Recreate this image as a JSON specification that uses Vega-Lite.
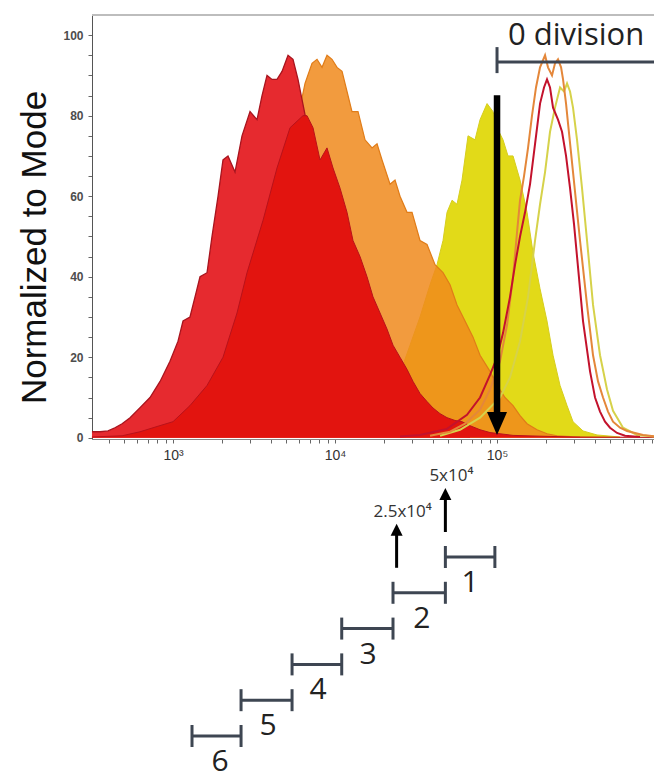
{
  "$schema": "https://vega.github.io/schema/vega-lite/v6.json",
  "width": 562,
  "height": 424,
  "autosize": "none",
  "padding": {"left": 92, "top": 15, "right": 0, "bottom": 332},
  "background": "white",
  "config": {"view": {"stroke": null}, "axis": {"grid": false}},
  "datasets": {
    "r1": [{"x":316,"y":1.5},{"x":354,"y":1.5},{"x":397,"y":1.7},{"x":438,"y":2.5},{"x":485,"y":3.5},{"x":543,"y":5},{"x":626,"y":7.5},{"x":721,"y":10},{"x":832,"y":14},{"x":958,"y":19},{"x":1074,"y":24},{"x":1153,"y":29},{"x":1273,"y":30},{"x":1387,"y":36},{"x":1468,"y":40},{"x":1622,"y":41},{"x":1741,"y":50},{"x":1897,"y":60},{"x":2035,"y":69},{"x":2185,"y":70},{"x":2414,"y":66},{"x":2667,"y":75},{"x":2988,"y":81},{"x":3301,"y":79},{"x":3544,"y":85},{"x":3804,"y":90},{"x":4085,"y":89},{"x":4385,"y":89},{"x":4709,"y":91},{"x":5128,"y":95},{"x":5504,"y":94},{"x":5909,"y":89},{"x":6257,"y":84},{"x":6622,"y":79},{"x":7525,"y":62},{"x":9314,"y":42},{"x":11530,"y":25},{"x":14270,"y":12},{"x":18960,"y":5},{"x":25190,"y":2},{"x":38590,"y":0.8},{"x":68130,"y":0.3}],
    "r2": [{"x":316,"y":0.2},{"x":485,"y":0.5},{"x":626,"y":1.5},{"x":797,"y":2.8},{"x":1000,"y":4},{"x":1273,"y":8},{"x":1622,"y":13},{"x":2035,"y":20},{"x":2484,"y":31},{"x":2863,"y":41},{"x":3594,"y":54},{"x":4385,"y":67},{"x":5276,"y":77},{"x":6345,"y":80},{"x":6717,"y":80},{"x":7315,"y":77},{"x":8081,"y":69},{"x":8925,"y":72},{"x":9720,"y":67},{"x":10740,"y":62},{"x":11860,"y":56},{"x":12910,"y":49},{"x":14270,"y":45},{"x":15760,"y":40},{"x":17160,"y":35},{"x":18960,"y":31},{"x":20940,"y":27},{"x":22800,"y":23},{"x":25190,"y":20},{"x":27830,"y":17},{"x":30310,"y":14},{"x":33470,"y":11},{"x":36980,"y":9},{"x":40270,"y":7.4},{"x":44480,"y":6},{"x":49130,"y":5},{"x":55050,"y":4.3},{"x":60810,"y":4},{"x":68130,"y":3},{"x":78560,"y":2},{"x":90540,"y":1.3},{"x":104350,"y":1},{"x":125560,"y":0.6},{"x":184300,"y":0.4},{"x":294500,"y":0.2},{"x":931000,"y":0.1}],
    "orange": [{"x":721,"y":0.5},{"x":1105,"y":2},{"x":1468,"y":4},{"x":1950,"y":9},{"x":2592,"y":18},{"x":3444,"y":33},{"x":4262,"y":50},{"x":5276,"y":70},{"x":6081,"y":82},{"x":6528,"y":88},{"x":7211,"y":93},{"x":7744,"y":94},{"x":8315,"y":92},{"x":8925,"y":95},{"x":9583,"y":94},{"x":10290,"y":92},{"x":11050,"y":91},{"x":11860,"y":86},{"x":12730,"y":81},{"x":13870,"y":81},{"x":15320,"y":74},{"x":16920,"y":72},{"x":18170,"y":73},{"x":19510,"y":69},{"x":21860,"y":63},{"x":23460,"y":64},{"x":25190,"y":60},{"x":27830,"y":56},{"x":29880,"y":56},{"x":33470,"y":49},{"x":36980,"y":48},{"x":41430,"y":43},{"x":46420,"y":41},{"x":51280,"y":38},{"x":56640,"y":33},{"x":61680,"y":30},{"x":71120,"y":25},{"x":78560,"y":20.5},{"x":90540,"y":16.5},{"x":100000,"y":13},{"x":112040,"y":10},{"x":125560,"y":8},{"x":138700,"y":5.5},{"x":153200,"y":3.5},{"x":176600,"y":2},{"x":203500,"y":1},{"x":234600,"y":0.5},{"x":325300,"y":0.2}],
    "yellow": [{"x":10740,"y":0.2},{"x":14270,"y":1},{"x":17660,"y":3},{"x":20350,"y":6},{"x":22480,"y":10},{"x":25190,"y":16},{"x":29040,"y":23},{"x":33470,"y":30},{"x":38590,"y":38},{"x":42620,"y":43},{"x":46420,"y":49},{"x":49130,"y":56},{"x":52760,"y":59},{"x":56640,"y":58},{"x":60810,"y":64},{"x":66220,"y":75},{"x":73140,"y":74},{"x":78560,"y":79},{"x":86780,"y":83},{"x":94470,"y":81},{"x":100000,"y":77},{"x":108900,"y":74},{"x":116900,"y":70},{"x":125560,"y":70},{"x":138700,"y":64},{"x":153200,"y":56},{"x":166800,"y":46},{"x":184300,"y":37},{"x":203500,"y":29},{"x":221700,"y":20.5},{"x":244900,"y":13},{"x":270500,"y":8},{"x":294500,"y":4},{"x":339500,"y":1.7},{"x":414300,"y":0.7},{"x":574500,"y":0.2}],
    "rline": [{"x":25190,"y":0.3},{"x":33470,"y":0.7},{"x":49130,"y":2.2},{"x":65280,"y":5.7},{"x":78560,"y":10},{"x":90540,"y":15.6},{"x":100000,"y":20},{"x":108900,"y":26},{"x":120300,"y":35},{"x":129200,"y":43},{"x":138700,"y":50},{"x":148900,"y":56},{"x":159900,"y":63},{"x":171700,"y":73},{"x":184300,"y":83},{"x":195000,"y":87},{"x":203500,"y":89},{"x":212400,"y":87},{"x":221700,"y":82},{"x":237900,"y":79},{"x":251900,"y":76},{"x":266700,"y":70},{"x":282300,"y":62},{"x":298800,"y":53},{"x":311800,"y":45},{"x":339500,"y":29},{"x":375100,"y":16.5},{"x":402700,"y":10},{"x":432300,"y":6.5},{"x":464200,"y":4},{"x":498300,"y":2.5},{"x":550500,"y":1.2},{"x":616700,"y":0.5},{"x":763100,"y":0.2}],
    "oline": [{"x":38590,"y":0.5},{"x":51280,"y":1.5},{"x":63450,"y":3.5},{"x":78560,"y":7},{"x":90540,"y":12},{"x":104350,"y":19},{"x":115300,"y":28},{"x":125560,"y":40},{"x":132900,"y":51},{"x":138700,"y":59},{"x":146800,"y":65},{"x":155400,"y":72},{"x":164400,"y":80},{"x":174000,"y":87},{"x":184300,"y":92},{"x":197900,"y":95},{"x":206400,"y":92},{"x":218500,"y":90},{"x":228000,"y":93},{"x":237900,"y":94},{"x":248500,"y":92},{"x":255600,"y":89},{"x":266700,"y":83},{"x":274400,"y":78},{"x":294500,"y":66},{"x":325300,"y":49},{"x":359400,"y":33},{"x":391400,"y":20.5},{"x":420300,"y":14},{"x":451100,"y":10},{"x":484300,"y":6.5},{"x":520000,"y":4},{"x":574500,"y":2.5},{"x":634500,"y":1.7},{"x":796800,"y":0.7},{"x":931000,"y":0.4}],
    "yline": [{"x":44480,"y":0.5},{"x":59100,"y":2},{"x":78560,"y":5},{"x":104350,"y":10},{"x":120300,"y":15},{"x":138700,"y":24},{"x":155400,"y":35},{"x":171700,"y":49},{"x":184300,"y":58},{"x":197900,"y":66},{"x":212400,"y":76},{"x":228000,"y":82},{"x":244900,"y":87},{"x":259300,"y":86},{"x":270500,"y":88},{"x":282300,"y":86},{"x":294500,"y":82},{"x":311800,"y":74},{"x":334700,"y":62},{"x":359400,"y":49},{"x":391400,"y":33},{"x":432300,"y":20.5},{"x":477500,"y":12},{"x":520000,"y":6.7},{"x":599500,"y":2.5},{"x":731500,"y":0.7},{"x":931000,"y":0.3}],
    "frame": [{"left": 316.2, "right": 931000, "top": 105}],
    "zeroDiv": [{"start": 100000, "end": 931000, "level": 93.3, "label": "0 division"}],
    "bigArrow": [{"x": 100000, "top": 85.1, "tip": 0.7}],
    "divisions": [
      {"division": 1, "start": 48000, "end": 97000, "labelAt": 68100, "label": "1"},
      {"division": 2, "start": 22800, "end": 48000, "labelAt": 34400, "label": "2"},
      {"division": 3, "start": 11000, "end": 22800, "labelAt": 16000, "label": "3"},
      {"division": 4, "start": 5430, "end": 11000, "labelAt": 7860, "label": "4"},
      {"division": 5, "start": 2630, "end": 5430, "labelAt": 3860, "label": "5"},
      {"division": 6, "start": 1310, "end": 2630, "labelAt": 1950, "label": "6"}
    ],
    "markers": [
      {"value": 48000, "division": 1, "label": "5x10⁴"},
      {"value": 24000, "division": 2, "label": "2.5x10⁴"}
    ]
  },
  "layer": [
    {
      "data": {"name": "yellow"},
      "mark": {"type": "area", "color": "#E2DA18", "opacity": 1, "line": {"color": "#D6CE1E", "strokeWidth": 1}},
      "encoding": {
        "x": {"field": "x", "type": "quantitative", "scale": {"type": "log", "domain": [316.2, 931000], "nice": false},
          "axis": {"title": null, "values": [400,500,600,700,800,900,1000,2000,3000,4000,5000,6000,7000,8000,9000,10000,20000,30000,40000,50000,60000,70000,80000,90000,100000,200000,300000,400000,500000,600000,700000,800000,900000], "labelExpr": "datum.value == 1000 ? '10³' : datum.value == 10000 ? '10⁴' : datum.value == 100000 ? '10⁵' : ''", "tickSize": 4, "domainColor": "#888888", "tickColor": "#666666", "labelFont": "Liberation Sans", "labelFontSize": 14, "labelColor": "#333333", "labelPadding": 5, "labelOverlap": false, "labelFlush": false}},
        "y": {"field": "y", "type": "quantitative", "scale": {"domain": [-0.3, 105], "nice": false, "zero": false},
          "axis": {"values": [0,5,10,15,20,25,30,35,40,45,50,55,60,65,70,75,80,85,90,95,100],
            "labelExpr": "datum.value % 20 == 0 ? datum.label : ''",
            "tickSize": 4,
            "domain": true, "domainColor": "#555555", "tickColor": "#666666", "labelFont": "Liberation Sans", "labelFontSize": 12, "labelFontWeight": "bold", "labelColor": "#4d4d4d", "labelPadding": 5, "labelOverlap": false,
            "title": "Normalized to Mode", "titleFont": "Liberation Sans", "titleFontSize": 35, "titleFontWeight": "normal", "titleColor": "#111111",
            "titleX": -47, "titleY": 232, "titleAngle": -90, "titleBaseline": "alphabetic", "titleAlign": "center"}},
        "y2": {"datum": 0}
      }
    },
    {
      "data": {"name": "orange"},
      "mark": {"type": "area", "color": "#F08A1C", "opacity": 1, "fillOpacity": 0.85, "line": {"color": "#E07C18", "strokeWidth": 1.2}},
      "encoding": {
        "x": {"field": "x", "type": "quantitative", "scale": {"type": "log", "domain": [316.2, 931000], "nice": false},
          "axis": {"title": null, "values": [400,500,600,700,800,900,1000,2000,3000,4000,5000,6000,7000,8000,9000,10000,20000,30000,40000,50000,60000,70000,80000,90000,100000,200000,300000,400000,500000,600000,700000,800000,900000], "labelExpr": "datum.value == 1000 ? '10³' : datum.value == 10000 ? '10⁴' : datum.value == 100000 ? '10⁵' : ''", "tickSize": 4, "domainColor": "#888888", "tickColor": "#666666", "labelFont": "Liberation Sans", "labelFontSize": 14, "labelColor": "#333333", "labelPadding": 5, "labelOverlap": false, "labelFlush": false}},
        "y": {"field": "y", "type": "quantitative", "scale": {"domain": [-0.3, 105], "nice": false, "zero": false}, "axis": null},
        "y2": {"datum": 0}
      }
    },
    {
      "data": {"name": "r1"},
      "mark": {"type": "area", "color": "#E62A2F", "opacity": 1, "line": {"color": "#A8141E", "strokeWidth": 1.3}},
      "encoding": {
        "x": {"field": "x", "type": "quantitative", "scale": {"type": "log", "domain": [316.2, 931000], "nice": false},
          "axis": {"title": null, "values": [400,500,600,700,800,900,1000,2000,3000,4000,5000,6000,7000,8000,9000,10000,20000,30000,40000,50000,60000,70000,80000,90000,100000,200000,300000,400000,500000,600000,700000,800000,900000], "labelExpr": "datum.value == 1000 ? '10³' : datum.value == 10000 ? '10⁴' : datum.value == 100000 ? '10⁵' : ''", "tickSize": 4, "domainColor": "#888888", "tickColor": "#666666", "labelFont": "Liberation Sans", "labelFontSize": 14, "labelColor": "#333333", "labelPadding": 5, "labelOverlap": false, "labelFlush": false}},
        "y": {"field": "y", "type": "quantitative", "scale": {"domain": [-0.3, 105], "nice": false, "zero": false}, "axis": null},
        "y2": {"datum": 0}
      }
    },
    {
      "data": {"name": "r2"},
      "mark": {"type": "area", "color": "#E2140F", "opacity": 1, "line": {"color": "#B8121A", "strokeWidth": 1}},
      "encoding": {
        "x": {"field": "x", "type": "quantitative", "scale": {"type": "log", "domain": [316.2, 931000], "nice": false},
          "axis": {"title": null, "values": [400,500,600,700,800,900,1000,2000,3000,4000,5000,6000,7000,8000,9000,10000,20000,30000,40000,50000,60000,70000,80000,90000,100000,200000,300000,400000,500000,600000,700000,800000,900000], "labelExpr": "datum.value == 1000 ? '10³' : datum.value == 10000 ? '10⁴' : datum.value == 100000 ? '10⁵' : ''", "tickSize": 4, "domainColor": "#888888", "tickColor": "#666666", "labelFont": "Liberation Sans", "labelFontSize": 14, "labelColor": "#333333", "labelPadding": 5, "labelOverlap": false, "labelFlush": false}},
        "y": {"field": "y", "type": "quantitative", "scale": {"domain": [-0.3, 105], "nice": false, "zero": false}, "axis": null},
        "y2": {"datum": 0}
      }
    },
    {
      "data": {"name": "yline"},
      "mark": {"type": "line", "color": "#D6D24A", "strokeWidth": 2},
      "encoding": {
        "x": {"field": "x", "type": "quantitative", "scale": {"type": "log", "domain": [316.2, 931000], "nice": false},
          "axis": {"title": null, "values": [400,500,600,700,800,900,1000,2000,3000,4000,5000,6000,7000,8000,9000,10000,20000,30000,40000,50000,60000,70000,80000,90000,100000,200000,300000,400000,500000,600000,700000,800000,900000], "labelExpr": "datum.value == 1000 ? '10³' : datum.value == 10000 ? '10⁴' : datum.value == 100000 ? '10⁵' : ''", "tickSize": 4, "domainColor": "#888888", "tickColor": "#666666", "labelFont": "Liberation Sans", "labelFontSize": 14, "labelColor": "#333333", "labelPadding": 5, "labelOverlap": false, "labelFlush": false}},
        "y": {"field": "y", "type": "quantitative", "scale": {"domain": [-0.3, 105], "nice": false, "zero": false}, "axis": null}
      }
    },
    {
      "data": {"name": "oline"},
      "mark": {"type": "line", "color": "#E4873A", "strokeWidth": 2},
      "encoding": {
        "x": {"field": "x", "type": "quantitative", "scale": {"type": "log", "domain": [316.2, 931000], "nice": false},
          "axis": {"title": null, "values": [400,500,600,700,800,900,1000,2000,3000,4000,5000,6000,7000,8000,9000,10000,20000,30000,40000,50000,60000,70000,80000,90000,100000,200000,300000,400000,500000,600000,700000,800000,900000], "labelExpr": "datum.value == 1000 ? '10³' : datum.value == 10000 ? '10⁴' : datum.value == 100000 ? '10⁵' : ''", "tickSize": 4, "domainColor": "#888888", "tickColor": "#666666", "labelFont": "Liberation Sans", "labelFontSize": 14, "labelColor": "#333333", "labelPadding": 5, "labelOverlap": false, "labelFlush": false}},
        "y": {"field": "y", "type": "quantitative", "scale": {"domain": [-0.3, 105], "nice": false, "zero": false}, "axis": null}
      }
    },
    {
      "data": {"name": "rline"},
      "mark": {"type": "line", "color": "#C3122C", "strokeWidth": 2},
      "encoding": {
        "x": {"field": "x", "type": "quantitative", "scale": {"type": "log", "domain": [316.2, 931000], "nice": false},
          "axis": {"title": null, "values": [400,500,600,700,800,900,1000,2000,3000,4000,5000,6000,7000,8000,9000,10000,20000,30000,40000,50000,60000,70000,80000,90000,100000,200000,300000,400000,500000,600000,700000,800000,900000], "labelExpr": "datum.value == 1000 ? '10³' : datum.value == 10000 ? '10⁴' : datum.value == 100000 ? '10⁵' : ''", "tickSize": 4, "domainColor": "#888888", "tickColor": "#666666", "labelFont": "Liberation Sans", "labelFontSize": 14, "labelColor": "#333333", "labelPadding": 5, "labelOverlap": false, "labelFlush": false}},
        "y": {"field": "y", "type": "quantitative", "scale": {"domain": [-0.3, 105], "nice": false, "zero": false}, "axis": null}
      }
    },
    {
      "data": {"name": "frame"},
      "mark": {"type": "rule", "color": "#BDBDBD", "strokeWidth": 2},
      "encoding": {
        "x": {"field": "left", "type": "quantitative", "scale": {"type": "log", "domain": [316.2, 931000], "nice": false},
          "axis": {"title": null, "values": [400,500,600,700,800,900,1000,2000,3000,4000,5000,6000,7000,8000,9000,10000,20000,30000,40000,50000,60000,70000,80000,90000,100000,200000,300000,400000,500000,600000,700000,800000,900000], "labelExpr": "datum.value == 1000 ? '10³' : datum.value == 10000 ? '10⁴' : datum.value == 100000 ? '10⁵' : ''", "tickSize": 4, "domainColor": "#888888", "tickColor": "#666666", "labelFont": "Liberation Sans", "labelFontSize": 14, "labelColor": "#333333", "labelPadding": 5, "labelOverlap": false, "labelFlush": false}},
        "x2": {"field": "right"},
        "y": {"field": "top", "type": "quantitative", "scale": {"domain": [-0.3, 105], "nice": false, "zero": false}, "axis": null}
      }
    },
    {
      "data": {"name": "zeroDiv"},
      "mark": {"type": "rule", "color": "#3E4652", "strokeWidth": 3},
      "encoding": {
        "x": {"field": "start", "type": "quantitative", "scale": {"type": "log", "domain": [316.2, 931000], "nice": false},
          "axis": {"title": null, "values": [400,500,600,700,800,900,1000,2000,3000,4000,5000,6000,7000,8000,9000,10000,20000,30000,40000,50000,60000,70000,80000,90000,100000,200000,300000,400000,500000,600000,700000,800000,900000], "labelExpr": "datum.value == 1000 ? '10³' : datum.value == 10000 ? '10⁴' : datum.value == 100000 ? '10⁵' : ''", "tickSize": 4, "domainColor": "#888888", "tickColor": "#666666", "labelFont": "Liberation Sans", "labelFontSize": 14, "labelColor": "#333333", "labelPadding": 5, "labelOverlap": false, "labelFlush": false}},
        "x2": {"field": "end"},
        "y": {"field": "level", "type": "quantitative", "scale": {"domain": [-0.3, 105], "nice": false, "zero": false}, "axis": null}
      }
    },
    {
      "data": {"name": "zeroDiv"},
      "mark": {"type": "rule", "color": "#3E4652", "strokeWidth": 3, "yOffset": -15, "y2Offset": 11},
      "encoding": {
        "x": {"field": "start", "type": "quantitative", "scale": {"type": "log", "domain": [316.2, 931000], "nice": false},
          "axis": {"title": null, "values": [400,500,600,700,800,900,1000,2000,3000,4000,5000,6000,7000,8000,9000,10000,20000,30000,40000,50000,60000,70000,80000,90000,100000,200000,300000,400000,500000,600000,700000,800000,900000], "labelExpr": "datum.value == 1000 ? '10³' : datum.value == 10000 ? '10⁴' : datum.value == 100000 ? '10⁵' : ''", "tickSize": 4, "domainColor": "#888888", "tickColor": "#666666", "labelFont": "Liberation Sans", "labelFontSize": 14, "labelColor": "#333333", "labelPadding": 5, "labelOverlap": false, "labelFlush": false}},
        "y": {"field": "level", "type": "quantitative", "scale": {"domain": [-0.3, 105], "nice": false, "zero": false}, "axis": null},
        "y2": {"field": "level"}
      }
    },
    {
      "data": {"name": "zeroDiv"},
      "mark": {"type": "text", "font": "Open Sans", "fontSize": 31, "color": "#222222", "align": "left", "baseline": "alphabetic", "dx": 11, "dy": -17},
      "encoding": {
        "x": {"field": "start", "type": "quantitative", "scale": {"type": "log", "domain": [316.2, 931000], "nice": false},
          "axis": {"title": null, "values": [400,500,600,700,800,900,1000,2000,3000,4000,5000,6000,7000,8000,9000,10000,20000,30000,40000,50000,60000,70000,80000,90000,100000,200000,300000,400000,500000,600000,700000,800000,900000], "labelExpr": "datum.value == 1000 ? '10³' : datum.value == 10000 ? '10⁴' : datum.value == 100000 ? '10⁵' : ''", "tickSize": 4, "domainColor": "#888888", "tickColor": "#666666", "labelFont": "Liberation Sans", "labelFontSize": 14, "labelColor": "#333333", "labelPadding": 5, "labelOverlap": false, "labelFlush": false}},
        "y": {"field": "level", "type": "quantitative", "scale": {"domain": [-0.3, 105], "nice": false, "zero": false}, "axis": null},
        "text": {"field": "label"}
      }
    },
    {
      "data": {"name": "bigArrow"},
      "mark": {"type": "rule", "color": "#000000", "strokeWidth": 6.5, "y2Offset": -20},
      "encoding": {
        "x": {"field": "x", "type": "quantitative", "scale": {"type": "log", "domain": [316.2, 931000], "nice": false},
          "axis": {"title": null, "values": [400,500,600,700,800,900,1000,2000,3000,4000,5000,6000,7000,8000,9000,10000,20000,30000,40000,50000,60000,70000,80000,90000,100000,200000,300000,400000,500000,600000,700000,800000,900000], "labelExpr": "datum.value == 1000 ? '10³' : datum.value == 10000 ? '10⁴' : datum.value == 100000 ? '10⁵' : ''", "tickSize": 4, "domainColor": "#888888", "tickColor": "#666666", "labelFont": "Liberation Sans", "labelFontSize": 14, "labelColor": "#333333", "labelPadding": 5, "labelOverlap": false, "labelFlush": false}},
        "y": {"field": "top", "type": "quantitative", "scale": {"domain": [-0.3, 105], "nice": false, "zero": false}, "axis": null},
        "y2": {"field": "tip"}
      }
    },
    {
      "data": {"name": "bigArrow"},
      "mark": {"type": "point", "filled": true, "color": "#000000", "opacity": 1, "shape": "M-0.87,-1L0.87,-1L0,1Z", "size": 529, "yOffset": -11.5},
      "encoding": {
        "x": {"field": "x", "type": "quantitative", "scale": {"type": "log", "domain": [316.2, 931000], "nice": false},
          "axis": {"title": null, "values": [400,500,600,700,800,900,1000,2000,3000,4000,5000,6000,7000,8000,9000,10000,20000,30000,40000,50000,60000,70000,80000,90000,100000,200000,300000,400000,500000,600000,700000,800000,900000], "labelExpr": "datum.value == 1000 ? '10³' : datum.value == 10000 ? '10⁴' : datum.value == 100000 ? '10⁵' : ''", "tickSize": 4, "domainColor": "#888888", "tickColor": "#666666", "labelFont": "Liberation Sans", "labelFontSize": 14, "labelColor": "#333333", "labelPadding": 5, "labelOverlap": false, "labelFlush": false}},
        "y": {"field": "tip", "type": "quantitative", "scale": {"domain": [-0.3, 105], "nice": false, "zero": false}, "axis": null}
      }
    },
    {
      "data": {"name": "divisions"},
      "mark": {"type": "rule", "color": "#3E4652", "strokeWidth": 3},
      "encoding": {
        "x": {"field": "start", "type": "quantitative", "scale": {"type": "log", "domain": [316.2, 931000], "nice": false},
          "axis": {"title": null, "values": [400,500,600,700,800,900,1000,2000,3000,4000,5000,6000,7000,8000,9000,10000,20000,30000,40000,50000,60000,70000,80000,90000,100000,200000,300000,400000,500000,600000,700000,800000,900000], "labelExpr": "datum.value == 1000 ? '10³' : datum.value == 10000 ? '10⁴' : datum.value == 100000 ? '10⁵' : ''", "tickSize": 4, "domainColor": "#888888", "tickColor": "#666666", "labelFont": "Liberation Sans", "labelFontSize": 14, "labelColor": "#333333", "labelPadding": 5, "labelOverlap": false, "labelFlush": false}},
        "x2": {"field": "end"},
        "y": {"field": "division", "type": "quantitative", "scale": {"domain": [-14.14, -2.296], "reverse": true, "nice": false, "zero": false}, "axis": null}
      }
    },
    {
      "data": {"name": "divisions"},
      "mark": {"type": "rule", "color": "#3E4652", "strokeWidth": 3, "yOffset": -11, "y2Offset": 11},
      "encoding": {
        "x": {"field": "start", "type": "quantitative", "scale": {"type": "log", "domain": [316.2, 931000], "nice": false},
          "axis": {"title": null, "values": [400,500,600,700,800,900,1000,2000,3000,4000,5000,6000,7000,8000,9000,10000,20000,30000,40000,50000,60000,70000,80000,90000,100000,200000,300000,400000,500000,600000,700000,800000,900000], "labelExpr": "datum.value == 1000 ? '10³' : datum.value == 10000 ? '10⁴' : datum.value == 100000 ? '10⁵' : ''", "tickSize": 4, "domainColor": "#888888", "tickColor": "#666666", "labelFont": "Liberation Sans", "labelFontSize": 14, "labelColor": "#333333", "labelPadding": 5, "labelOverlap": false, "labelFlush": false}},
        "y": {"field": "division", "type": "quantitative", "scale": {"domain": [-14.14, -2.296], "reverse": true, "nice": false, "zero": false}, "axis": null},
        "y2": {"field": "division"}
      }
    },
    {
      "data": {"name": "divisions"},
      "mark": {"type": "rule", "color": "#3E4652", "strokeWidth": 3, "yOffset": -11, "y2Offset": 11},
      "encoding": {
        "x": {"field": "end", "type": "quantitative", "scale": {"type": "log", "domain": [316.2, 931000], "nice": false},
          "axis": {"title": null, "values": [400,500,600,700,800,900,1000,2000,3000,4000,5000,6000,7000,8000,9000,10000,20000,30000,40000,50000,60000,70000,80000,90000,100000,200000,300000,400000,500000,600000,700000,800000,900000], "labelExpr": "datum.value == 1000 ? '10³' : datum.value == 10000 ? '10⁴' : datum.value == 100000 ? '10⁵' : ''", "tickSize": 4, "domainColor": "#888888", "tickColor": "#666666", "labelFont": "Liberation Sans", "labelFontSize": 14, "labelColor": "#333333", "labelPadding": 5, "labelOverlap": false, "labelFlush": false}},
        "y": {"field": "division", "type": "quantitative", "scale": {"domain": [-14.14, -2.296], "reverse": true, "nice": false, "zero": false}, "axis": null},
        "y2": {"field": "division"}
      }
    },
    {
      "data": {"name": "divisions"},
      "mark": {"type": "text", "font": "Open Sans", "fontSize": 30, "color": "#222222", "align": "center", "baseline": "middle", "dy": 26},
      "encoding": {
        "x": {"field": "labelAt", "type": "quantitative", "scale": {"type": "log", "domain": [316.2, 931000], "nice": false},
          "axis": {"title": null, "values": [400,500,600,700,800,900,1000,2000,3000,4000,5000,6000,7000,8000,9000,10000,20000,30000,40000,50000,60000,70000,80000,90000,100000,200000,300000,400000,500000,600000,700000,800000,900000], "labelExpr": "datum.value == 1000 ? '10³' : datum.value == 10000 ? '10⁴' : datum.value == 100000 ? '10⁵' : ''", "tickSize": 4, "domainColor": "#888888", "tickColor": "#666666", "labelFont": "Liberation Sans", "labelFontSize": 14, "labelColor": "#333333", "labelPadding": 5, "labelOverlap": false, "labelFlush": false}},
        "y": {"field": "division", "type": "quantitative", "scale": {"domain": [-14.14, -2.296], "reverse": true, "nice": false, "zero": false}, "axis": null},
        "text": {"field": "label"}
      }
    },
    {
      "data": {"name": "markers"},
      "mark": {"type": "rule", "color": "#000000", "strokeWidth": 3, "yOffset": -25, "y2Offset": -58},
      "encoding": {
        "x": {"field": "value", "type": "quantitative", "scale": {"type": "log", "domain": [316.2, 931000], "nice": false},
          "axis": {"title": null, "values": [400,500,600,700,800,900,1000,2000,3000,4000,5000,6000,7000,8000,9000,10000,20000,30000,40000,50000,60000,70000,80000,90000,100000,200000,300000,400000,500000,600000,700000,800000,900000], "labelExpr": "datum.value == 1000 ? '10³' : datum.value == 10000 ? '10⁴' : datum.value == 100000 ? '10⁵' : ''", "tickSize": 4, "domainColor": "#888888", "tickColor": "#666666", "labelFont": "Liberation Sans", "labelFontSize": 14, "labelColor": "#333333", "labelPadding": 5, "labelOverlap": false, "labelFlush": false}},
        "y": {"field": "division", "type": "quantitative", "scale": {"domain": [-14.14, -2.296], "reverse": true, "nice": false, "zero": false}, "axis": null},
        "y2": {"field": "division"}
      }
    },
    {
      "data": {"name": "markers"},
      "mark": {"type": "point", "filled": true, "color": "#000000", "opacity": 1, "shape": "M-1,1L1,1L0,-1Z", "size": 144, "yOffset": -63},
      "encoding": {
        "x": {"field": "value", "type": "quantitative", "scale": {"type": "log", "domain": [316.2, 931000], "nice": false},
          "axis": {"title": null, "values": [400,500,600,700,800,900,1000,2000,3000,4000,5000,6000,7000,8000,9000,10000,20000,30000,40000,50000,60000,70000,80000,90000,100000,200000,300000,400000,500000,600000,700000,800000,900000], "labelExpr": "datum.value == 1000 ? '10³' : datum.value == 10000 ? '10⁴' : datum.value == 100000 ? '10⁵' : ''", "tickSize": 4, "domainColor": "#888888", "tickColor": "#666666", "labelFont": "Liberation Sans", "labelFontSize": 14, "labelColor": "#333333", "labelPadding": 5, "labelOverlap": false, "labelFlush": false}},
        "y": {"field": "division", "type": "quantitative", "scale": {"domain": [-14.14, -2.296], "reverse": true, "nice": false, "zero": false}, "axis": null}
      }
    },
    {
      "data": {"name": "markers"},
      "mark": {"type": "text", "font": "Open Sans", "fontSize": 17, "color": "#333333", "align": "center", "baseline": "middle", "dx": 6, "dy": -81},
      "encoding": {
        "x": {"field": "value", "type": "quantitative", "scale": {"type": "log", "domain": [316.2, 931000], "nice": false},
          "axis": {"title": null, "values": [400,500,600,700,800,900,1000,2000,3000,4000,5000,6000,7000,8000,9000,10000,20000,30000,40000,50000,60000,70000,80000,90000,100000,200000,300000,400000,500000,600000,700000,800000,900000], "labelExpr": "datum.value == 1000 ? '10³' : datum.value == 10000 ? '10⁴' : datum.value == 100000 ? '10⁵' : ''", "tickSize": 4, "domainColor": "#888888", "tickColor": "#666666", "labelFont": "Liberation Sans", "labelFontSize": 14, "labelColor": "#333333", "labelPadding": 5, "labelOverlap": false, "labelFlush": false}},
        "y": {"field": "division", "type": "quantitative", "scale": {"domain": [-14.14, -2.296], "reverse": true, "nice": false, "zero": false}, "axis": null},
        "text": {"field": "label"}
      }
    }
  ],
  "resolve": {"scale": {"y": "independent"}}
}
